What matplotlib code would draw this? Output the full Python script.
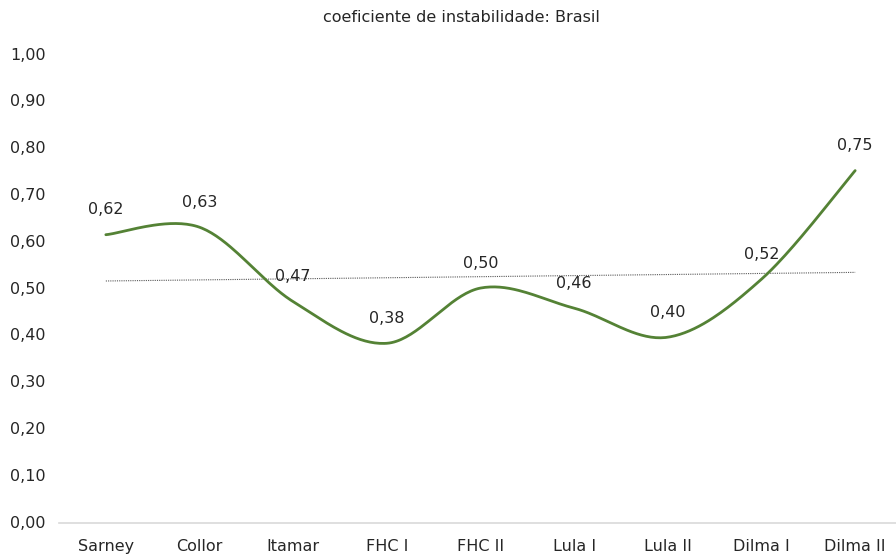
import numpy as np
import matplotlib
matplotlib.use("Agg")
import matplotlib.pyplot as plt
from matplotlib.transforms import blended_transform_factory

categories = ["Sarney", "Collor", "Itamar", "FHC I", "FHC II", "Lula I", "Lula II", "Dilma I", "Dilma II"]
values = [0.616, 0.632, 0.473, 0.384, 0.502, 0.459, 0.397, 0.521, 0.753]
yticks = [0.0, 0.1, 0.2, 0.3, 0.4, 0.5, 0.6, 0.7, 0.8, 0.9, 1.0]
title = "coeficiente de instabilidade: Brasil"

plt.rcParams['font.family'] = ['DejaVu Sans']

W, H = 896, 556
fig = plt.figure(figsize=(W / 100, H / 100), dpi=100)
ax = fig.add_axes([59 / W, 33 / H, (902 - 59) / W, 468 / H])

x = np.arange(len(values), dtype=float)
y = np.array(values)

# Smoothed curve (Catmull-Rom style Bezier, like Excel's smoothed line)
def bezier_smooth(xs, ys, n=40):
    px, py = [], []
    N = len(xs)
    for i in range(N - 1):
        p0x, p0y = xs[i], ys[i]
        p3x, p3y = xs[i + 1], ys[i + 1]
        pmx, pmy = (xs[i - 1], ys[i - 1]) if i > 0 else (xs[i], ys[i])
        ppx, ppy = (xs[i + 2], ys[i + 2]) if i + 2 < N else (xs[i + 1], ys[i + 1])
        c1x = p0x + (p3x - pmx) / 6
        c1y = p0y + (p3y - pmy) / 6
        c2x = p3x - (ppx - p0x) / 6
        c2y = p3y - (ppy - p0y) / 6
        t = np.linspace(0, 1, n)
        bx = (1 - t) ** 3 * p0x + 3 * (1 - t) ** 2 * t * c1x + 3 * (1 - t) * t ** 2 * c2x + t ** 3 * p3x
        by = (1 - t) ** 3 * p0y + 3 * (1 - t) ** 2 * t * c1y + 3 * (1 - t) * t ** 2 * c2y + t ** 3 * p3y
        px.extend(bx if i == 0 else bx[1:])
        py.extend(by if i == 0 else by[1:])
    return np.array(px), np.array(py)

sx, sy = bezier_smooth(x, y)
ax.plot(sx, sy, color='#548235', lw=2.0, solid_capstyle='round', zorder=3, clip_on=False)

# Linear trendline
coef = np.polyfit(x, y, 1)
ax.plot(x[[0, -1]], np.polyval(coef, x[[0, -1]]), color='#595959', lw=0.8,
        linestyle=(0, (1, 1)), zorder=2)

# Data labels
for xi, yi in zip(x, y):
    ax.annotate(f"{yi:.2f}".replace('.', ','), (xi, yi), xytext=(0, 18),
                textcoords='offset points', ha='center', va='center',
                fontsize=11.5, color='#262626', zorder=4)

ax.set_xlim(-0.5, len(values) - 0.5)
ax.set_ylim(0, 1.0)
for s in ['top', 'right', 'left']:
    ax.spines[s].set_visible(False)
ax.spines['bottom'].set_color('#d9d9d9')
ax.spines['bottom'].set_linewidth(1.2)

ax.set_xticks(x)
ax.set_xticklabels(categories, fontsize=11.5, color='#262626')
ax.tick_params(axis='x', length=0, pad=11.5)
ax.set_yticks(yticks)
ax.set_yticklabels([])
ax.tick_params(axis='y', length=0)
trans = blended_transform_factory(fig.transFigure, ax.transData)
for v in yticks:
    fig.text(10 / W, v, f"{v:.2f}".replace('.', ','), transform=trans,
             ha='left', va='center', fontsize=11.5, color='#262626')

fig.text(461 / W, 1 - 17 / H, title, ha='center', va='center', fontsize=11.5, color='#262626')

fig.savefig("out.png", dpi=100)
